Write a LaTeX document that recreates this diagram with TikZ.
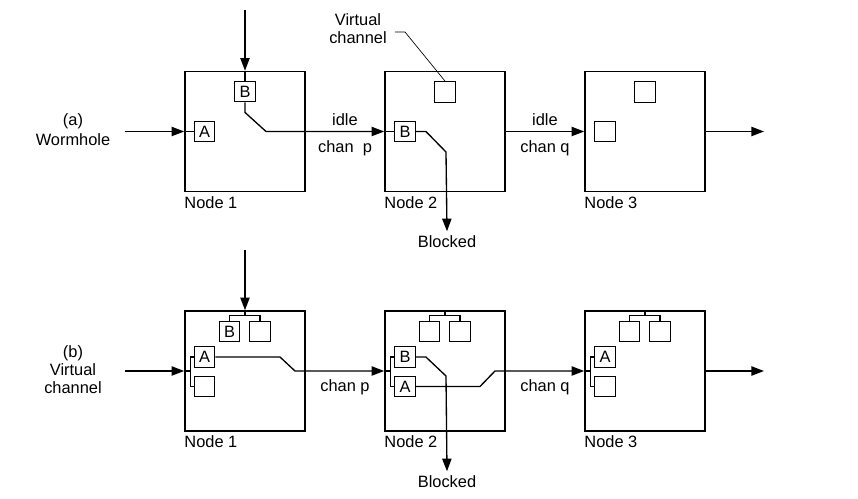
\documentclass[tikz,border=0pt]{standalone}
\usepackage{fontspec}
\setmainfont{Liberation Sans}
\usetikzlibrary{arrows.meta}

\begin{document}
\begin{tikzpicture}[x=0.75pt, y=-0.75pt,
  font=\fontsize{12.3}{13.5}\selectfont,
  router/.style={draw, line width=1.2pt, minimum size=90pt, inner sep=0pt},
  vc/.style={draw, line width=1pt, minimum size=15.4pt, inner sep=0pt},
  link/.style={line width=1pt},
  arr/.style={line width=1pt, -{Triangle[length=9.5pt, width=7pt]}},
  lbl/.style={anchor=base west, inner sep=0pt}]
\useasboundingbox (0,0) rectangle (858,499);

% (a) wormhole

\node[router] (n1a) at (245,131.5) {};
\node[router] (n2a) at (445,131.5) {};
\node[router] (n3a) at (645,131.5) {};
\node[lbl] (t1a) at ([yshift=-12pt]n1a.south west) {Node 1};
\node[lbl] (t2a) at ([yshift=-12pt]n2a.south west) {Node 2};
\node[lbl] (t3a) at ([yshift=-12pt]n3a.south west) {Node 3};

\node[vc] (b1a) at (245,91.5) {B};
\node[vc] (a1a) at (204.5,131.5) {A};
\node[vc] (v2a) at (445,92) {};
\node[vc] (b2a) at (405,131.5) {B};
\node[vc] (v3a) at (645,92) {};
\node[vc] (w3a) at (605,131.5) {};

\node[align=center] (wa) at (73,130) {(a)\\[1.5pt]Wormhole};
\node[align=center] (vclab) at (358,29) {Virtual\\channel};
\node (blka) at (447,242) {Blocked};

\coordinate (ina) at (125,131.5);
\coordinate (topa) at (245,10);
\coordinate (outa) at (764,131.5);

\draw[arr] (ina) -- (n1a.west);
\draw[link] (n1a.west) -- (a1a);
\draw[arr] (topa) -- (n1a.north);
\draw[link] (n1a.north) -- (b1a);
\draw[arr] (b1a.south) -- ++(0,10) -- (266,131.5) -- (n2a.west);
\draw[link] (n2a.west) -- (b2a);
\draw[arr] (b2a.east) -- ++(10,0) -- (446,152) -- (blka.north);
\draw[arr] (n2a.east) -- (n3a.west);
\draw[arr] (n3a.east) -- (outa);
\draw[line width=0.5pt] (395,32) -- (405,32) -- (v2a.north);

\path (n1a.east) -- (n2a.west) node[midway, above=1pt] {idle} node[midway, below=3pt] {chan\ \ p};
\path (n2a.east) -- (n3a.west) node[midway, above=1pt] {idle} node[midway, below=3pt] {chan q};

% (b) virtual channel

\node[router] (n1b) at (245,371) {};
\node[router] (n2b) at (445,371) {};
\node[router] (n3b) at (645,371) {};
\node[lbl] (t1b) at ([yshift=-12pt]n1b.south west) {Node 1};
\node[lbl] (t2b) at ([yshift=-12pt]n2b.south west) {Node 2};
\node[lbl] (t3b) at ([yshift=-12pt]n3b.south west) {Node 3};

\node[vc] (b1b) at (229.5,331.5) {B};
\node[vc] (v1b) at (260,331.5) {};
\node[vc] (a1b) at (204.5,357) {A};
\node[vc] (w1b) at (204.5,386.5) {};

\node[vc] (u2b) at (429.5,331.5) {};
\node[vc] (v2b) at (460,331.5) {};
\node[vc] (b2b) at (405,357) {B};
\node[vc] (a2b) at (405,386.5) {A};

\node[vc] (u3b) at (629.5,331.5) {};
\node[vc] (v3b) at (660,331.5) {};
\node[vc] (a3b) at (605,357) {A};
\node[vc] (w3b) at (605,386.5) {};

\node[align=center] (wb) at (73,370) {(b)\\Virtual\\channel};
\node (blkb) at (447,482) {Blocked};

\coordinate (inb) at (125,371);
\coordinate (topb) at (245,250);
\coordinate (outb) at (764,371);

\draw[arr] (inb) -- (n1b.west);
\draw[arr] (topb) -- (n1b.north);
\draw[link] (n1b.north) -- ++(0,5) -| (b1b.north);
\draw[link] (n1b.north) ++(0,5) -| (v1b.north);
\draw[link] (n1b.west) -- ++(6,0) |- (a1b.west);
\draw[link] (n1b.west) ++(6,0) |- (w1b.west);
\draw[link] (n2b.north) -- ++(0,5) -| (u2b.north);
\draw[link] (n2b.north) ++(0,5) -| (v2b.north);
\draw[link] (n2b.west) -- ++(6,0) |- (b2b.west);
\draw[link] (n2b.west) ++(6,0) |- (a2b.west);
\draw[link] (n3b.north) -- ++(0,5) -| (u3b.north);
\draw[link] (n3b.north) ++(0,5) -| (v3b.north);
\draw[link] (n3b.west) -- ++(6,0) |- (a3b.west);
\draw[link] (n3b.west) ++(6,0) |- (w3b.west);

\draw[arr] (a1b.east) -- (280,357) -- (295,371) -- (n2b.west);
\draw[arr] (b2b.east) -- ++(10,0) -- (446,376) -- (blkb.north);
\draw[arr] (a2b.east) -- (480,386.5) -- (495,371) -- (n3b.west);
\draw[arr] (n3b.east) -- (outb);

\path (n1b.east) -- (n2b.west) node[midway, below=3pt] {chan p};
\path (n2b.east) -- (n3b.west) node[midway, below=3pt] {chan q};

\end{tikzpicture}
\end{document}
